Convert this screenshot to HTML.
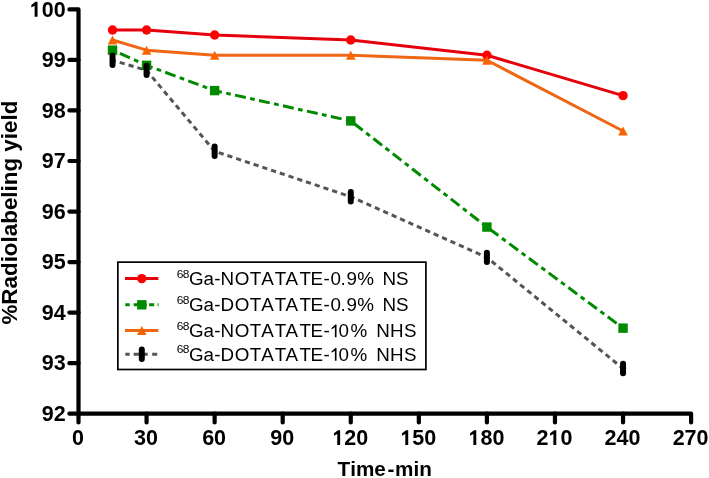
<!DOCTYPE html><html><head><meta charset="utf-8"><style>html,body{margin:0;padding:0;background:#fff;width:709px;height:478px;overflow:hidden}svg{display:block;will-change:transform}text{font-family:"Liberation Sans",sans-serif;font-kerning:none}</style></head><body>
<svg width="709" height="478" viewBox="0 0 709 478">
<rect width="709" height="478" fill="#fff"/>
<g stroke="#000" stroke-width="4.2" stroke-linecap="round" stroke-linejoin="round" fill="none">
<path d="M69.4,9.38 L78.5,9.38 L78.5,413.7 L691.10,413.7 L691.10,422.5"/>
<path d="M69.4,413.70 L78.5,413.70"/>
<path d="M69.4,363.16 L78.5,363.16"/>
<path d="M69.4,312.62 L78.5,312.62"/>
<path d="M69.4,262.08 L78.5,262.08"/>
<path d="M69.4,211.54 L78.5,211.54"/>
<path d="M69.4,161.00 L78.5,161.00"/>
<path d="M69.4,110.46 L78.5,110.46"/>
<path d="M69.4,59.92 L78.5,59.92"/>
<path d="M78.50,413.7 L78.50,422.5"/>
<path d="M146.57,413.7 L146.57,422.5"/>
<path d="M214.63,413.7 L214.63,422.5"/>
<path d="M282.70,413.7 L282.70,422.5"/>
<path d="M350.77,413.7 L350.77,422.5"/>
<path d="M418.83,413.7 L418.83,422.5"/>
<path d="M486.90,413.7 L486.90,422.5"/>
<path d="M554.97,413.7 L554.97,422.5"/>
<path d="M623.04,413.7 L623.04,422.5"/>
</g>
<g font-weight="bold" font-size="21.5" fill="#000">
<text x="65.6" y="421.00" text-anchor="end">92</text>
<text x="65.6" y="370.46" text-anchor="end">93</text>
<text x="65.6" y="319.92" text-anchor="end">94</text>
<text x="65.6" y="269.38" text-anchor="end">95</text>
<text x="65.6" y="218.84" text-anchor="end">96</text>
<text x="65.6" y="168.30" text-anchor="end">97</text>
<text x="65.6" y="117.76" text-anchor="end">98</text>
<text x="65.6" y="67.22" text-anchor="end">99</text>
<path d="M37.54,16.68 L37.54,1.82 L35.37,1.82 L31.35,4.90 L31.35,7.54 L34.64,5.67 L34.64,16.68 Z"/>
<text x="65.6" y="16.68" text-anchor="end">00</text>
<text x="78.00" y="445" text-anchor="middle">0</text>
<text x="146.07" y="445" text-anchor="middle">30</text>
<text x="214.13" y="445" text-anchor="middle">60</text>
<text x="282.20" y="445" text-anchor="middle">90</text>
<path d="M340.14,445.00 L340.14,430.14 L337.97,430.14 L333.95,433.22 L333.95,435.86 L337.24,433.99 L337.24,445.00 Z"/>
<text x="344.29" y="445">2</text>
<text x="356.25" y="445">0</text>
<path d="M408.21,445.00 L408.21,430.14 L406.04,430.14 L402.02,433.22 L402.02,435.86 L405.31,433.99 L405.31,445.00 Z"/>
<text x="412.36" y="445">5</text>
<text x="424.31" y="445">0</text>
<path d="M476.28,445.00 L476.28,430.14 L474.10,430.14 L470.08,433.22 L470.08,435.86 L473.37,433.99 L473.37,445.00 Z"/>
<text x="480.43" y="445">8</text>
<text x="492.38" y="445">0</text>
<text x="536.54" y="445">2</text>
<path d="M556.30,445.00 L556.30,430.14 L554.12,430.14 L550.10,433.22 L550.10,435.86 L553.39,433.99 L553.39,445.00 Z"/>
<text x="560.45" y="445">0</text>
<text x="622.54" y="445" text-anchor="middle">240</text>
<text x="690.60" y="445" text-anchor="middle">270</text>
</g>
<text transform="translate(17.4,212.6) rotate(-90)" text-anchor="middle" font-weight="bold" font-size="22.4">%Radiolabeling yield</text>
<text x="337.6" y="475.8" font-weight="bold" font-size="20.7">Time</text>
<text x="387.6" y="475.8" font-weight="bold" font-size="20.7">-</text>
<text x="395" y="475.8" font-weight="bold" font-size="20.7">min</text>
<polyline points="112.53,29.95 146.57,29.95 214.63,35.00 350.77,40.05 486.90,55.22 623.04,95.65" fill="none" stroke="#e6000c" stroke-width="3.0" stroke-linejoin="round"/>
<polyline points="112.53,50.16 146.57,65.32 214.63,90.59 350.77,120.92 486.90,227.05 623.04,328.13" fill="none" stroke="#008a00" stroke-width="3.0" stroke-dasharray="11 4.42 4.7 4.42" stroke-dashoffset="16.46"/>
<polyline points="112.53,40.05 146.57,50.16 214.63,55.22 350.77,55.22 486.90,60.27 623.04,131.03" fill="none" stroke="#ef6614" stroke-width="3.0" stroke-linejoin="round"/>
<polyline points="112.53,60.27 146.57,70.38 214.63,151.24 350.77,196.73 486.90,257.38 623.04,368.56" fill="none" stroke="#555555" stroke-width="3.0" stroke-dasharray="5.2 4.0" stroke-dashoffset="1.69"/>
<circle cx="112.53" cy="29.95" r="4.7" fill="#ff0000"/>
<circle cx="146.57" cy="29.95" r="4.7" fill="#ff0000"/>
<circle cx="214.63" cy="35.00" r="4.7" fill="#ff0000"/>
<circle cx="350.77" cy="40.05" r="4.7" fill="#ff0000"/>
<circle cx="486.90" cy="55.22" r="4.7" fill="#ff0000"/>
<circle cx="623.04" cy="95.65" r="4.7" fill="#ff0000"/>
<rect x="107.83" y="45.46" width="9.4" height="9.4" fill="#008a00"/>
<rect x="141.87" y="60.62" width="9.4" height="9.4" fill="#008a00"/>
<rect x="209.93" y="85.89" width="9.4" height="9.4" fill="#008a00"/>
<rect x="346.07" y="116.22" width="9.4" height="9.4" fill="#008a00"/>
<rect x="482.20" y="222.35" width="9.4" height="9.4" fill="#008a00"/>
<rect x="618.34" y="323.43" width="9.4" height="9.4" fill="#008a00"/>
<path d="M112.53,35.55 L117.33,44.55 L107.73,44.55 Z" fill="#fa6400"/>
<path d="M146.57,45.66 L151.37,54.66 L141.77,54.66 Z" fill="#fa6400"/>
<path d="M214.63,50.72 L219.43,59.72 L209.83,59.72 Z" fill="#fa6400"/>
<path d="M350.77,50.72 L355.57,59.72 L345.97,59.72 Z" fill="#fa6400"/>
<path d="M486.90,55.77 L491.70,64.77 L482.10,64.77 Z" fill="#fa6400"/>
<path d="M623.04,126.53 L627.84,135.53 L618.24,135.53 Z" fill="#fa6400"/>
<rect x="109.53" y="52.57" width="6.0" height="15.4" rx="3.0" ry="3.0" fill="#000"/>
<rect x="143.57" y="62.68" width="6.0" height="15.4" rx="3.0" ry="3.0" fill="#000"/>
<rect x="211.63" y="143.54" width="6.0" height="15.4" rx="3.0" ry="3.0" fill="#000"/>
<rect x="347.77" y="189.03" width="6.0" height="15.4" rx="3.0" ry="3.0" fill="#000"/>
<rect x="483.90" y="249.68" width="6.0" height="15.4" rx="3.0" ry="3.0" fill="#000"/>
<rect x="620.04" y="360.86" width="6.0" height="15.4" rx="3.0" ry="3.0" fill="#000"/>
<rect x="117.85" y="262.15" width="308.05" height="107.35" fill="#fff" stroke="#000" stroke-width="1.7"/>
<path d="M125,278.6 L158.4,278.6" stroke="#e6000c" stroke-width="3.0"/>
<circle cx="141.80" cy="278.60" r="4.7" fill="#ff0000"/>
<path d="M125.3,304.8 L129.7,304.8 M133.6,304.8 L139,304.8 M144,304.8 L146.7,304.8 M149.1,304.8 L154.2,304.8 M157.6,304.8 L158.6,304.8" stroke="#008a00" stroke-width="3.0"/>
<rect x="137.10" y="300.10" width="9.4" height="9.4" fill="#008a00"/>
<path d="M125,330.6 L158.4,330.6" stroke="#ef6614" stroke-width="3.0"/>
<path d="M141.80,326.10 L146.60,335.10 L137.00,335.10 Z" fill="#fa6400"/>
<path d="M125.3,354.2 L129.7,354.2 M133.6,354.2 L139,354.2 M143,354.2 L147.7,354.2 M152.2,354.2 L157.2,354.2" stroke="#555555" stroke-width="3.0"/>
<rect x="138.80" y="346.50" width="6.0" height="15.4" rx="3.0" ry="3.0" fill="#000"/>
<g transform="translate(0,285.25) scale(1,0.943)">
<text x="176.77 182.88" y="-8.06" font-size="12">68</text>
<text x="189.05 203.40 214.20 220.50 234.85 249.75 261.25 274.70 285.55 299.40 310.60 323.60 330.45 340.40 346.50 357.35 382.55 395.95" y="0" font-size="18.8">Ga-NOTATATE-0.9%NS</text>
</g>
<g transform="translate(0,311.40) scale(1,0.943)">
<text x="176.77 182.88" y="-8.06" font-size="12">68</text>
<text x="189.05 203.40 214.20 220.50 234.85 249.75 261.25 274.70 285.55 299.40 310.60 323.60 330.45 340.40 346.50 357.35 382.55 395.95" y="0" font-size="18.8">Ga-DOTATATE-0.9%NS</text>
</g>
<g transform="translate(0,337.25) scale(1,0.943)">
<text x="176.77 182.88" y="-8.06" font-size="12">68</text>
<text x="189.05 203.40 214.20 220.50 234.85 249.75 261.25 274.70 285.55 299.40 310.60 323.60 338.50 350.55 376.25 389.90 404.10" y="0" font-size="18.8">Ga-NOTATATE-0%NHS</text>
<path d="M336.53,0.00 L336.53,-13.46 L335.43,-13.46 L331.57,-9.93 L331.57,-8.27 L334.87,-10.53 L334.87,0.00 Z"/>
</g>
<g transform="translate(0,360.65) scale(1,0.943)">
<text x="176.77 182.88" y="-8.06" font-size="12">68</text>
<text x="189.05 203.40 214.20 220.50 234.85 249.75 261.25 274.70 285.55 299.40 310.60 323.60 338.50 350.55 376.25 389.90 404.10" y="0" font-size="18.8">Ga-DOTATATE-0%NHS</text>
<path d="M336.53,0.00 L336.53,-13.46 L335.43,-13.46 L331.57,-9.93 L331.57,-8.27 L334.87,-10.53 L334.87,0.00 Z"/>
</g>
</svg></body></html>
